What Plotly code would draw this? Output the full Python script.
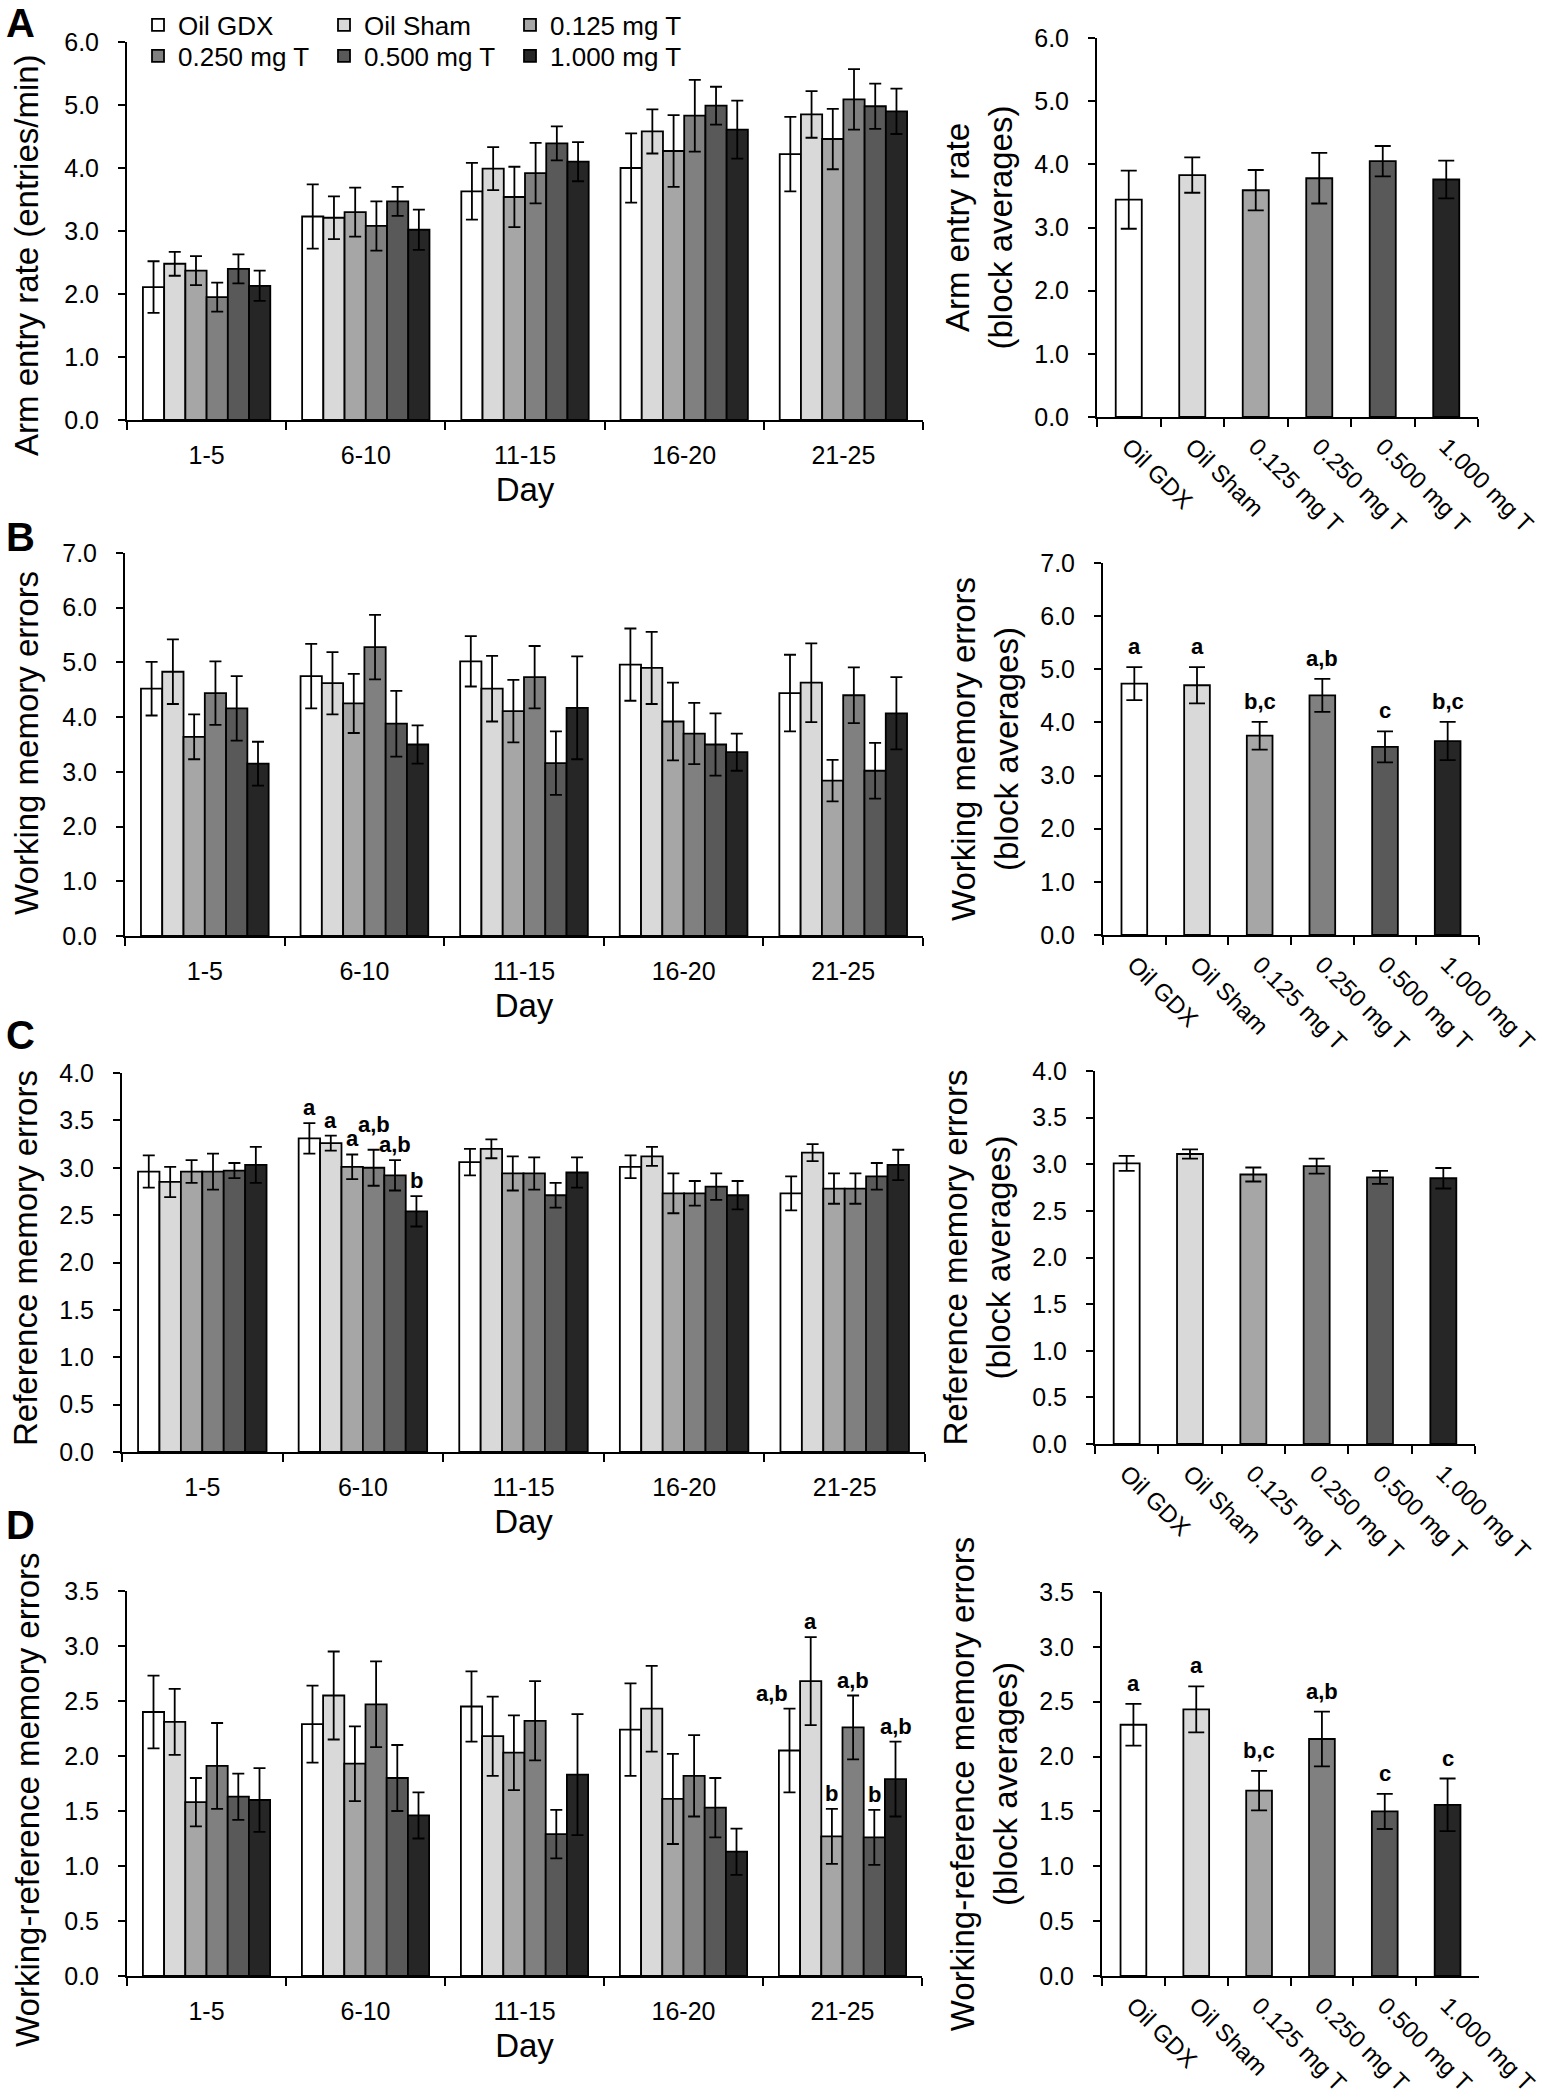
import plotly.graph_objects as go

# ---------------- data ----------------
days = ["1-5", "6-10", "11-15", "16-20", "21-25"]
groups = ["Oil GDX", "Oil Sham", "0.125 mg T", "0.250 mg T", "0.500 mg T", "1.000 mg T"]
colors = ["#ffffff", "#d9d9d9", "#a6a6a6", "#808080", "#595959", "#262626"]

# Panel A: arm entry rate (rows = groups, cols = day blocks)
arm_mean = [
    [2.11, 3.23, 3.63, 4.00, 4.22],
    [2.48, 3.21, 3.99, 4.58, 4.85],
    [2.37, 3.30, 3.54, 4.27, 4.46],
    [1.95, 3.08, 3.92, 4.83, 5.09],
    [2.40, 3.47, 4.39, 4.99, 4.98],
    [2.13, 3.02, 4.10, 4.61, 4.90],
]
arm_se = [
    [0.41, 0.51, 0.45, 0.55, 0.59],
    [0.19, 0.34, 0.34, 0.35, 0.37],
    [0.23, 0.39, 0.48, 0.57, 0.48],
    [0.23, 0.39, 0.48, 0.57, 0.48],
    [0.23, 0.23, 0.27, 0.30, 0.36],
    [0.24, 0.32, 0.31, 0.46, 0.36],
]
arm_block = [3.44, 3.83, 3.59, 3.78, 4.05, 3.76]
arm_block_se = [0.46, 0.28, 0.32, 0.40, 0.24, 0.30]

# Panel B: working memory errors
wm_mean = [
    [4.52, 4.75, 5.02, 4.96, 4.44],
    [4.83, 4.62, 4.52, 4.90, 4.63],
    [3.64, 4.25, 4.11, 3.92, 2.84],
    [4.44, 5.28, 4.73, 3.70, 4.40],
    [4.16, 3.88, 3.16, 3.50, 3.02],
    [3.15, 3.50, 4.17, 3.36, 4.07],
]
wm_se = [
    [0.49, 0.59, 0.46, 0.66, 0.70],
    [0.59, 0.57, 0.60, 0.66, 0.72],
    [0.41, 0.54, 0.57, 0.71, 0.38],
    [0.58, 0.59, 0.57, 0.56, 0.51],
    [0.59, 0.60, 0.58, 0.57, 0.51],
    [0.40, 0.35, 0.94, 0.34, 0.66],
]
wm_block = [4.73, 4.70, 3.75, 4.51, 3.54, 3.65]
wm_block_se = [0.31, 0.34, 0.26, 0.31, 0.29, 0.36]
wm_block_letters = ["a", "a", "b,c", "a,b", "c", "b,c"]

# Panel C: reference memory errors
rm_mean = [
    [2.96, 3.31, 3.06, 3.01, 2.73],
    [2.85, 3.26, 3.20, 3.12, 3.16],
    [2.96, 3.01, 2.94, 2.73, 2.78],
    [2.96, 3.00, 2.94, 2.73, 2.78],
    [2.97, 2.92, 2.71, 2.80, 2.91],
    [3.03, 2.54, 2.95, 2.71, 3.03],
]
rm_se = [
    [0.17, 0.16, 0.14, 0.12, 0.18],
    [0.16, 0.08, 0.10, 0.10, 0.09],
    [0.12, 0.13, 0.18, 0.21, 0.16],
    [0.19, 0.19, 0.17, 0.13, 0.16],
    [0.08, 0.16, 0.13, 0.14, 0.14],
    [0.19, 0.16, 0.16, 0.15, 0.16],
]
rm_block = [3.01, 3.11, 2.89, 2.98, 2.86, 2.85]
rm_block_se = [0.08, 0.05, 0.075, 0.08, 0.07, 0.11]
rm_day_letters = {"6-10": ["a", "a", "a", "a,b", "a,b", "b"]}

# Panel D: working-reference memory errors
wrm_mean = [
    [2.40, 2.29, 2.45, 2.24, 2.05],
    [2.31, 2.55, 2.18, 2.43, 2.68],
    [1.58, 1.93, 2.03, 1.61, 1.27],
    [1.91, 2.47, 2.32, 1.82, 2.26],
    [1.63, 1.80, 1.29, 1.53, 1.26],
    [1.60, 1.46, 1.83, 1.13, 1.79],
]
wrm_se = [
    [0.33, 0.35, 0.32, 0.42, 0.38],
    [0.30, 0.40, 0.36, 0.39, 0.40],
    [0.22, 0.34, 0.34, 0.41, 0.25],
    [0.39, 0.39, 0.36, 0.37, 0.29],
    [0.21, 0.30, 0.22, 0.27, 0.25],
    [0.29, 0.21, 0.55, 0.21, 0.34],
]
wrm_block = [2.29, 2.43, 1.69, 2.16, 1.50, 1.56]
wrm_block_se = [0.19, 0.21, 0.18, 0.25, 0.16, 0.24]
wrm_block_letters = ["a", "a", "b,c", "a,b", "c", "c"]
wrm_day_letters = {"21-25": ["a,b", "a", "b", "a,b", "b", "a,b"]}

# ---------------- layout helpers ----------------
W, H = 1551, 2100
FONT = "Liberation Sans, Arial, Helvetica, sans-serif"
TICK = 25
RTICK = 24
TITLE = 33
ANN = 22

# small label nudges (panel, day, group) -> (xshift, extra yshift), purely cosmetic
letter_nudge = {("C", "6-10", 3): (0, 10), ("D", "21-25", 0): (-18, 0)}


def xd(a, b):
    return [a / W, b / W]


def yd(top, bottom):
    return [1 - bottom / H, 1 - top / H]


panels = [
    dict(letter="A", L=(127, 923, 42, 420), R=(1097, 1478, 38, 417), ymax=6.0, dtick=1.0,
         title="Arm entry rate (entries/min)", tpos=(26, 255),
         rtitle="Arm entry rate<br>(block averages)",
         mean=arm_mean, se=arm_se, block=arm_block, bse=arm_block_se, bl=None, dl={}, ly=23),
    dict(letter="B", L=(125, 923, 553, 936), R=(1103, 1479, 563, 935), ymax=7.0, dtick=1.0,
         title="Working memory errors", tpos=(26, 743),
         rtitle="Working memory errors<br>(block averages)",
         mean=wm_mean, se=wm_se, block=wm_block, bse=wm_block_se, bl=wm_block_letters, dl={}, ly=537),
    dict(letter="C", L=(122, 925, 1073, 1452), R=(1095, 1475, 1071, 1444), ymax=4.0, dtick=0.5,
         title="Reference memory errors", tpos=(25, 1258),
         rtitle="Reference memory errors<br>(block averages)",
         mean=rm_mean, se=rm_se, block=rm_block, bse=rm_block_se, bl=None, dl=rm_day_letters, ly=1035),
    dict(letter="D", L=(127, 922, 1591, 1976), R=(1102, 1479, 1592, 1976), ymax=3.5, dtick=0.5,
         title="Working-reference memory errors", tpos=(27, 1800),
         rtitle="Working-reference memory errors<br>(block averages)",
         mean=wrm_mean, se=wrm_se, block=wrm_block, bse=wrm_block_se, bl=wrm_block_letters, dl=wrm_day_letters, ly=1525),
]

fig = go.Figure()
layout = dict(
    width=W, height=H, margin=dict(l=0, r=0, t=0, b=0, autoexpand=False),
    paper_bgcolor="white", plot_bgcolor="white",
    barmode="group", bargap=0.2, bargroupgap=0.0,
    font=dict(family=FONT, color="black", size=TICK),
    showlegend=True,
)
annotations = []

axis_common = dict(showline=True, linecolor="black", linewidth=2, ticks="outside",
                   tickcolor="black", tickwidth=2, showgrid=False, zeroline=False,
                   automargin=False,
                   tickfont=dict(size=TICK, family=FONT, color="black"))

n = 0
for p in panels:
    # ---- left (daily) panel ----
    n += 1
    xl, yl = f"x{n}", f"y{n}"
    xa, ya = f"xaxis{n}", f"yaxis{n}"
    x0, x1, t0, b0 = p["L"]
    layout[xa] = dict(axis_common, domain=xd(x0, x1), anchor=yl, type="category",
                      categoryorder="array", categoryarray=days, range=[-0.5, 4.5],
                      tickson="boundaries", ticklen=8, ticklabelstandoff=12,
                      title=dict(text="Day", font=dict(size=TITLE, family=FONT), standoff=10))
    layout[ya] = dict(axis_common, domain=yd(t0, b0), anchor=xl, range=[0, p["ymax"]],
                      dtick=p["dtick"], tickformat=".1f", ticklen=7, ticklabelstandoff=14)
    # left y-axis title (placed as rotated text to match the reference position)
    annotations.append(dict(
        x=p["tpos"][0] / W, y=1 - p["tpos"][1] / H, xref="paper", yref="paper",
        xanchor="center", yanchor="middle", textangle=-90, showarrow=False,
        text=p["title"], font=dict(size=TITLE, family=FONT, color="black")))
    for gi, g in enumerate(groups):
        leg = "legend" if gi < 3 else "legend2"
        fig.add_trace(go.Bar(
            x=days, y=p["mean"][gi], name=g, xaxis=xl, yaxis=yl,
            marker=dict(color=colors[gi], line=dict(color="black", width=1.8)),
            error_y=dict(type="data", array=p["se"][gi], color="black", thickness=1.8, width=6),
            showlegend=(p["letter"] == "A"), legend=leg, legendgroup=g,
        ))
    for day, letters in p["dl"].items():
        di = days.index(day)
        for gi, lt in enumerate(letters):
            off = -0.4 + (0.8 / 6) * (gi + 0.5)
            dx, dy = letter_nudge.get((p["letter"], day, gi), (0, 0))
            annotations.append(dict(
                x=di + off, y=p["mean"][gi][di] + p["se"][gi][di], xref=xl, yref=yl,
                text=f"<b>{lt}</b>", showarrow=False, yanchor="bottom", yshift=1 + dy, xshift=dx,
                font=dict(size=ANN, family=FONT, color="black")))

    # ---- right (block average) panel ----
    n += 1
    xr, yr = f"x{n}", f"y{n}"
    xa, ya = f"xaxis{n}", f"yaxis{n}"
    x0, x1, t0, b0 = p["R"]
    layout[xa] = dict(axis_common, domain=xd(x0, x1), anchor=yr, type="category",
                      categoryorder="array", categoryarray=groups, range=[-0.5, 5.5],
                      tickson="boundaries", ticklen=8, tickangle=45, ticklabelstandoff=4,
                      tickfont=dict(size=RTICK, family=FONT, color="black"))
    layout[ya] = dict(axis_common, domain=yd(t0, b0), anchor=xr, range=[0, p["ymax"]],
                      dtick=p["dtick"], tickformat=".1f", ticklen=7, ticklabelstandoff=14,
                      title=dict(text=p["rtitle"], font=dict(size=TITLE, family=FONT), standoff=12))
    fig.add_trace(go.Bar(
        x=groups, y=p["block"], xaxis=xr, yaxis=yr, width=0.41, showlegend=False,
        marker=dict(color=colors, line=dict(color="black", width=1.8)),
        error_y=dict(type="data", array=p["bse"], color="black", thickness=1.8, width=8),
    ))
    if p["bl"]:
        for gi, lt in enumerate(p["bl"]):
            annotations.append(dict(
                x=groups[gi], y=p["block"][gi] + p["bse"][gi], xref=xr, yref=yr,
                text=f"<b>{lt}</b>", showarrow=False, yanchor="bottom", yshift=6,
                font=dict(size=ANN, family=FONT, color="black")))

    # panel letter
    annotations.append(dict(
        x=4 / W, y=1 - p["ly"] / H, xref="paper", yref="paper", xanchor="left", yanchor="middle",
        text=f"<b>{p['letter']}</b>", showarrow=False,
        font=dict(size=40, family=FONT, color="black")))

legend_common = dict(orientation="h", xanchor="left", yanchor="middle", bgcolor="rgba(0,0,0,0)",
                     font=dict(size=26, family=FONT, color="black"), entrywidth=141,
                     entrywidthmode="pixels", itemwidth=30, tracegroupgap=0)
layout["legend"] = dict(legend_common, x=138 / W, y=1 - 25 / H)
layout["legend2"] = dict(legend_common, x=138 / W, y=1 - 56 / H)
layout["annotations"] = annotations

fig.update_layout(**layout)
fig.write_html("out.html", config={"displayModeBar": False},
               post_script="document.body.style.margin='0px';document.body.style.padding='0px';")
